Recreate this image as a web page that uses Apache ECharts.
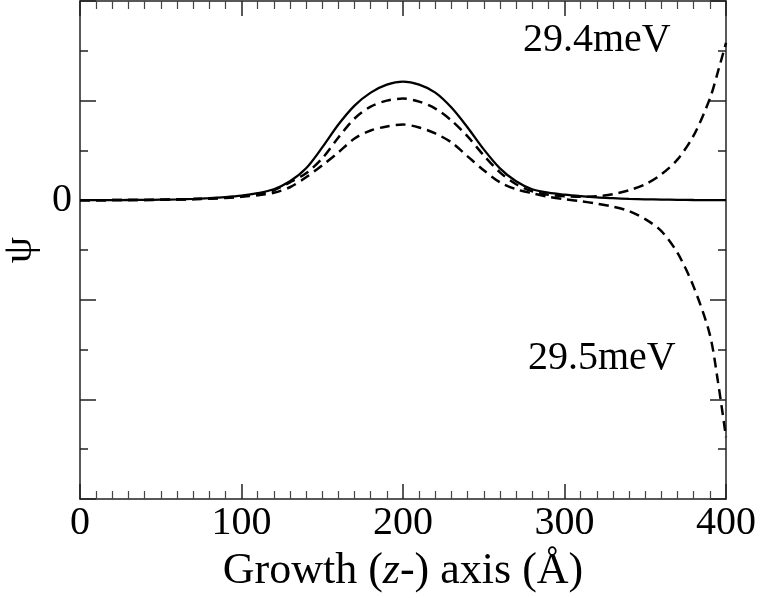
<!DOCTYPE html>
<html>
<head>
<meta charset="utf-8">
<script src="https://cdn.jsdelivr.net/npm/echarts@6/dist/echarts.min.js"></script>
<style>
html,body{margin:0;padding:0;background:#fff;}
#chart{width:761px;height:598px;}
</style>
</head>
<body>
<div id="chart"></div>
<script>
// Growth axis positions (Å)
var zValues = [0,10,20,30,40,50,60,70,80,90,100,110,120,130,140,150,160,170,180,190,200,210,220,230,240,250,260,270,280,290,300,310,320,330,340,350,360,370,380,390,395,400];
// bound state (solid)
var psiBound = [0,0,0.001,0.002,0.003,0.005,0.008,0.013,0.02,0.03,0.045,0.07,0.11,0.19,0.32,0.53,0.76,0.95,1.08,1.16,1.19,1.16,1.08,0.93,0.73,0.51,0.32,0.19,0.11,0.075,0.055,0.04,0.028,0.02,0.013,0.009,0.006,0.004,0.002,0.001,0.0005,0];
// 29.4 meV (dashed, diverging up)
var psi294 = [0,0,0.001,0.002,0.003,0.005,0.007,0.011,0.017,0.026,0.04,0.06,0.10,0.18,0.27,0.42,0.63,0.82,0.94,1.00,1.02,0.99,0.92,0.80,0.64,0.45,0.28,0.16,0.09,0.055,0.04,0.035,0.04,0.06,0.10,0.16,0.26,0.41,0.65,1.02,1.29,1.58];
// 29.5 meV (dashed, diverging down)
var psi295 = [0,0,0.001,0.001,0.002,0.004,0.006,0.009,0.014,0.022,0.034,0.05,0.075,0.13,0.23,0.35,0.48,0.62,0.70,0.74,0.76,0.73,0.67,0.58,0.44,0.30,0.18,0.11,0.07,0.035,0.01,-0.01,-0.035,-0.065,-0.11,-0.19,-0.31,-0.53,-0.87,-1.35,-1.82,-2.38];
var xTicks = [0,100,200,300,400];
var yTickLabels = ['0'];

function pairs(ys){ return zValues.map(function(z,i){ return [z, ys[i]]; }); }

var chart = echarts.init(document.getElementById('chart'), null, {renderer:'canvas'});
var font = 'Liberation Serif, Times New Roman, serif';
var axisLine = {show:true, onZero:false, lineStyle:{color:'#222', width:1.5}};
var option = {
  animation:false,
  backgroundColor:'#fff',
  grid:{left:80, right:35, top:1, bottom:99, containLabel:false, outerBoundsMode:'none'},
  xAxis:[{
    type:'value', min:0, max:400, interval:100, position:'bottom',
    axisLine:axisLine,
    axisTick:{show:true, inside:true, length:15, lineStyle:{color:'#222', width:1.5}},
    minorTick:{show:true, splitNumber:10, length:8, lineStyle:{color:'#444', width:1.2}},
    splitLine:{show:false},
    axisLabel:{show:true, fontFamily:font, fontSize:40, color:'#000', margin:4,
      formatter:function(v){ return xTicks.indexOf(v)>=0 ? String(v) : ''; }},
    name:'Growth ({i|z}-) axis (Å)', nameLocation:'middle', nameGap:50,
    nameTextStyle:{fontFamily:font, fontSize:44, color:'#000',
      rich:{i:{fontFamily:font, fontSize:44, fontStyle:'italic', color:'#000'}}}
  },{
    type:'value', min:0, max:400, interval:100, position:'top',
    axisLine:axisLine,
    axisTick:{show:true, inside:true, length:15, lineStyle:{color:'#222', width:1.5}},
    minorTick:{show:true, splitNumber:10, length:8, lineStyle:{color:'#444', width:1.2}},
    splitLine:{show:false}, axisLabel:{show:false}
  }],
  yAxis:[{
    type:'value', min:-3, max:2, interval:1, position:'left',
    axisLine:axisLine,
    axisTick:{show:true, inside:true, length:16, lineStyle:{color:'#222', width:1.5}},
    minorTick:{show:true, splitNumber:2, length:8, lineStyle:{color:'#222', width:1.5}},
    splitLine:{show:false},
    axisLabel:{show:true, fontFamily:font, fontSize:40, color:'#000', margin:8,
      formatter:function(v){ return v===0 ? yTickLabels[0] : ''; }},
    name:'ψ', nameLocation:'middle', nameGap:31, nameRotate:90,
    nameTextStyle:{fontFamily:font, fontSize:42, color:'#000'}
  },{
    type:'value', min:-3, max:2, interval:1, position:'right',
    axisLine:axisLine,
    axisTick:{show:true, inside:true, length:16, lineStyle:{color:'#222', width:1.5}},
    minorTick:{show:true, splitNumber:2, length:8, lineStyle:{color:'#222', width:1.5}},
    splitLine:{show:false}, axisLabel:{show:false}
  }],
  series:[
    {type:'line', xAxisIndex:0, yAxisIndex:0, data:pairs(psiBound), showSymbol:false, symbol:'none',
      smooth:0.3, lineStyle:{color:'#000', width:2.3, type:'solid'}},
    {type:'line', xAxisIndex:0, yAxisIndex:0, data:pairs(psi294), showSymbol:false, symbol:'none',
      smooth:0.3, lineStyle:{color:'#000', width:2.5, type:[10,6]}},
    {type:'line', xAxisIndex:0, yAxisIndex:0, data:pairs(psi295), showSymbol:false, symbol:'none',
      smooth:0.3, lineStyle:{color:'#000', width:2.5, type:[10,6]}}
  ],
  graphic:[
    {type:'text', left:523, top:20, style:{text:'29.4meV', fontFamily:font, fontSize:40, fill:'#000'}},
    {type:'text', left:528, top:338, style:{text:'29.5meV', fontFamily:font, fontSize:40, fill:'#000'}}
  ]
};
chart.setOption(option);
</script>
</body>
</html>
